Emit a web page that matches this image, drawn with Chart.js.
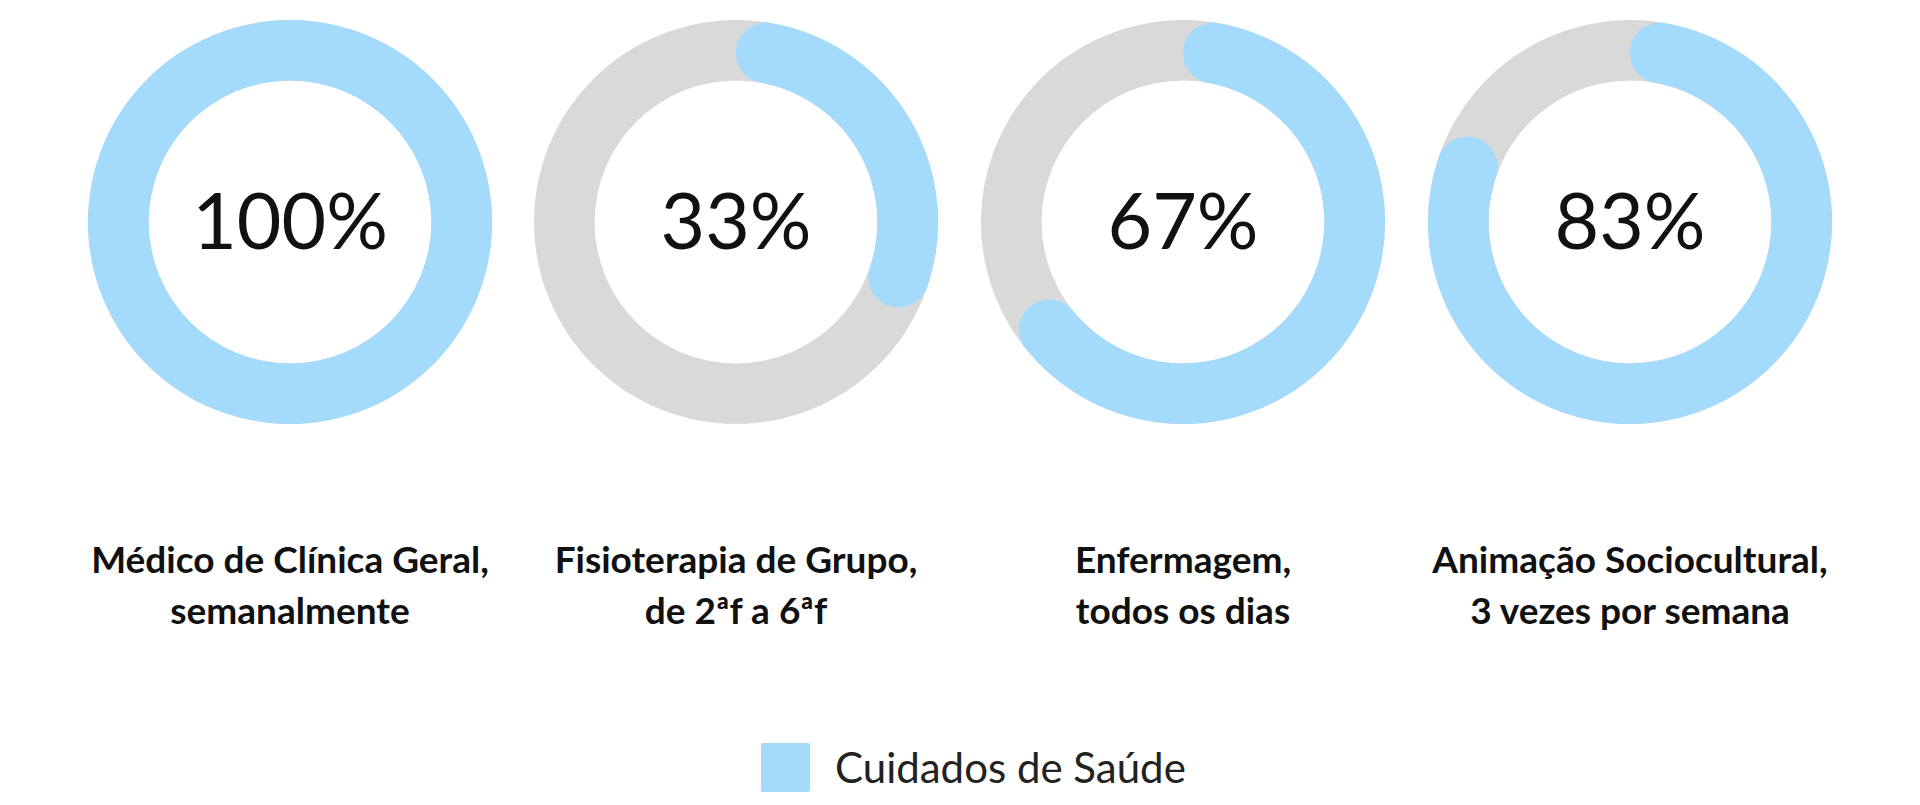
<!DOCTYPE html>
<html>
<head>
<meta charset="utf-8">
<script src="https://cdn.jsdelivr.net/npm/chart.js@4"></script>
<style>
  body { margin: 0; width: 1920px; height: 805px; background: #fff; font-family: Lato, sans-serif; position: relative; overflow: hidden; }
  canvas { position: absolute; }
  .lbl { position: absolute; width: 480px; text-align: center; font-weight: bold; font-size: 37px; line-height: 51px; color: #111; top: 533px; }
  .legend { position: absolute; top: 742px; left: 761px; display: flex; align-items: center; font-size: 42px; color: #222; }
  .legend span { display: inline-block; width: 49px; height: 49px; background: #a4dafb; margin-right: 25px; border-radius: 2px; }
</style>
</head>
<body>
<div class="legend"><span></span>Cuidados de Saúde</div>
<script>
const categories = ['Médico de Clínica Geral,<br>semanalmente', 'Fisioterapia de Grupo,<br>de 2ªf a 6ªf', 'Enfermagem,<br>todos os dias', 'Animação Sociocultural,<br>3 vezes por semana'];
const percents = [100, 33, 67, 83];
const seriesName = 'Cuidados de Saúde';
const centersX = [290, 736, 1183, 1630];

const blue = '#a4dafb';
const grey = '#d9d9d9';

const ringPlugin = {
  id: 'ring',
  beforeDatasetsDraw(chart) {
    const arc = chart.getDatasetMeta(0).data[0];
    const ctx = chart.ctx;
    ctx.save();
    ctx.beginPath();
    ctx.arc(arc.x, arc.y, arc.outerRadius, 0, Math.PI * 2);
    ctx.arc(arc.x, arc.y, arc.innerRadius, Math.PI * 2, 0, true);
    ctx.fillStyle = grey;
    ctx.fill('evenodd');
    ctx.restore();
  },
  afterDatasetsDraw(chart) {
    const arc = chart.getDatasetMeta(0).data[0];
    const ctx = chart.ctx;
    ctx.save();
    ctx.font = '77px Lato';
    ctx.fillStyle = '#111';
    ctx.textAlign = 'center';
    ctx.textBaseline = 'middle';
    ctx.fillText(chart.data.datasets[0].data[0] + '%', arc.x, arc.y + 2);
    ctx.restore();
  }
};

percents.forEach(function (p, i) {
  const c = document.createElement('canvas');
  c.width = 410; c.height = 410;
  c.style.left = (centersX[i] - 205) + 'px';
  c.style.top = (222 - 205) + 'px';
  document.body.appendChild(c);

  const lbl = document.createElement('div');
  lbl.className = 'lbl';
  lbl.style.left = (centersX[i] - 240) + 'px';
  lbl.innerHTML = categories[i];
  document.body.appendChild(lbl);

  new Chart(c, {
    type: 'doughnut',
    data: {
      labels: [seriesName, ''],
      datasets: [{
        data: [p, 100 - p],
        backgroundColor: [blue, 'rgba(0,0,0,0)'],
        borderWidth: 0,
        borderRadius: p === 100 ? 0 : [30, 0]
      }]
    },
    options: {
      responsive: false,
      animation: false,
      cutout: '70%',
      layout: { padding: 3 },
      plugins: { legend: { display: false }, tooltip: { enabled: false } }
    },
    plugins: [ringPlugin]
  });
});
</script>
</body>
</html>
